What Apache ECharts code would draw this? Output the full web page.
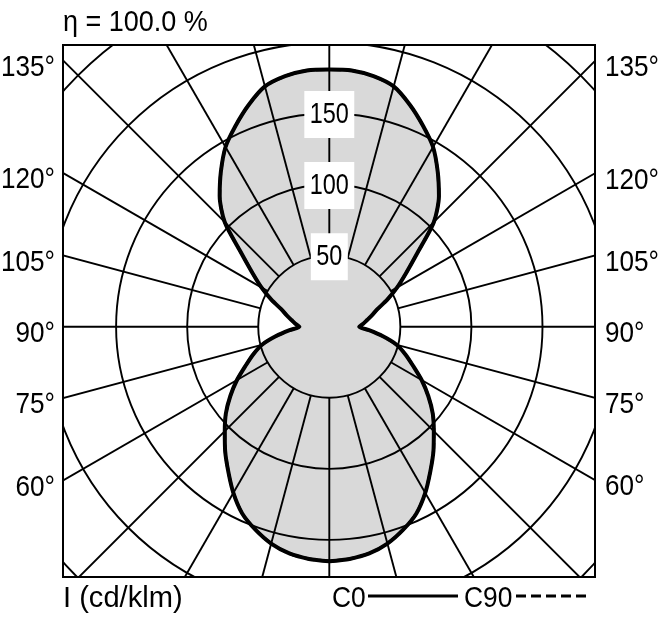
<!DOCTYPE html>
<html><head><meta charset="utf-8">
<script src="https://cdn.jsdelivr.net/npm/echarts@6/dist/echarts.min.js"></script>
<style>html,body{margin:0;padding:0;background:#fff}#c{width:660px;height:617px}</style>
</head><body><div id="c"></div>
<script>
// ---- data ----
const gamma = [0,5,10,15,20,25,30,35,40,45,50,55,60,65,70,75,80,85,90,95,100,105,110,115,120,125,130,135,140,145,150,155,160,165,170,175,180];
const c0  = [165,164,162,158,152,145,135,124,114,104,95,85,75,65,57,49,38,28,21,24,27,31,36,45,55,66,81,104,120,133,146,156,166,175,179,181,181];
const c90 = [165,164,162,158,152,145,135,124,114,104,95,85,75,65,57,49,38,28,21,24,27,31,36,45,55,66,81,104,120,133,146,156,166,175,179,181,181];
const radialAngles = [-165,-150,-135,-120,-105,-90,-75,-60,-45,-30,-15,0,15,30,45,60,75,90,105,120,135,150,165,180];
const sideTicks = [135,120,105,90,75,60];
const ringLabels = [50,100,150];
const titleText = 'η = 100.0 %';
const unitText = 'I (cd/klm)';
const seriesNames = ['C0','C90'];

// ---- layout / style ----
const FONT = '"Liberation Sans",Arial,sans-serif';
const FS = 30;
const BOX = {l:63, t:45, r:595, b:577};
const CENTER = [329.3, 326.7];
const RMAX = 300, RPIX = 426.4;
const GRIDW = 1.9, CURVEW = 4;

function loop(vals){
  const pts = [];
  for (let i = 0; i < gamma.length; i++) pts.push([vals[i], gamma[i]]);
  for (let i = gamma.length - 1; i >= 0; i--) pts.push([vals[i], -gamma[i]]);
  return pts;
}

const chart = echarts.init(document.getElementById('c'), null, {renderer:'canvas'});
const option = {
  animation:false,
  backgroundColor:'#fff',
  polar:{center:CENTER, radius:RPIX},
  angleAxis:{type:'value', min:-180, max:180, startAngle:90, clockwise:true,
    axisLine:{show:false}, axisTick:{show:false}, axisLabel:{show:false}, splitLine:{show:false}},
  radiusAxis:{type:'value', min:0, max:RMAX, interval:50, z:3,
    axisLine:{show:false}, axisTick:{show:false}, axisLabel:{show:false},
    splitLine:{show:true, lineStyle:{color:'#000', width:GRIDW}}},
  series:[
    {type:'line', name:'fill', coordinateSystem:'polar', data:loop(c0), smooth:0.25, symbol:'none', z:1,
      lineStyle:{width:0, color:'#d9d9d9'}, areaStyle:{color:'#d9d9d9', opacity:1}},
    {type:'custom', name:'radials', coordinateSystem:'polar', z:2,
      data:radialAngles.map(a => [50, a]),
      renderItem:(params, api) => {
        const a = api.value(1);
        const p1 = api.coord([50, a]);
        const p2 = api.coord([RMAX, a]);
        return {type:'line', shape:{x1:p1[0], y1:p1[1], x2:p2[0], y2:p2[1]}, style:{stroke:'#000', lineWidth:GRIDW}};
      }},
    {type:'line', name:'C90', coordinateSystem:'polar', data:loop(c90), smooth:0.25, symbol:'none', z:4,
      lineStyle:{color:'#000', width:3, type:[10,5]}},
    {type:'line', name:'C0', coordinateSystem:'polar', data:loop(c0), smooth:0.25, symbol:'none', z:5,
      lineStyle:{color:'#000', width:CURVEW}}
  ]
};
chart.setOption(option);

// decorations: mask outside frame, frame, texts
const g = [];
const W = 660, H = 617;
const white = {fill:'#fff'};
g.push({type:'rect', z:100, silent:true, shape:{x:0, y:0, width:W, height:BOX.t}, style:white});
g.push({type:'rect', z:100, silent:true, shape:{x:0, y:BOX.b, width:W, height:H-BOX.b}, style:white});
g.push({type:'rect', z:100, silent:true, shape:{x:0, y:0, width:BOX.l, height:H}, style:white});
g.push({type:'rect', z:100, silent:true, shape:{x:BOX.r, y:0, width:W-BOX.r, height:H}, style:white});
g.push({type:'rect', z:101, silent:true, shape:{x:BOX.l, y:BOX.t, width:BOX.r-BOX.l, height:BOX.b-BOX.t},
  style:{fill:null, stroke:'#000', lineWidth:2}});

const txt = (s, x, y, align, sx, extra) => ({type:'text', z:102, silent:true, x:x, y:y, scaleX:sx, scaleY:1,
  style:Object.assign({text:s, fill:'#000', fontSize:FS, fontFamily:FONT, align:align, verticalAlign:'middle'}, extra||{})});

const toPx = v => chart.convertToPixel({polarIndex:0}, v);
const c = toPx([0, 0]);
sideTicks.forEach(t => {
  const pl = toPx([100, t]);
  const yl = c[1] + (BOX.l - c[0]) / (pl[0] - c[0]) * (pl[1] - c[1]);
  g.push(txt(t + '°', BOX.l - 8, yl + 7, 'right', 0.87));
  const pr = toPx([100, -t]);
  const yr = c[1] + (BOX.r - c[0]) / (pr[0] - c[0]) * (pr[1] - c[1]);
  g.push(txt(t + '°', BOX.r + 10, yr + 7, 'left', 0.87));
});
ringLabels.forEach(v => {
  const p = toPx([v, 180]);
  g.push(txt(String(v), p[0], p[1] + 1, 'center', 0.78,
    {backgroundColor:'#fff', padding:[9,7,8,7]}));
});
g.push(txt(titleText, 63, 23, 'left', 0.9));
g.push(txt(unitText, 63, 599, 'left', 0.97));

// legend (series names with their line styles)
let lx = 332;
const ly = 599;
const legendStyles = [{lineDash:null, w:90}, {lineDash:[10,5], w:72}];
seriesNames.forEach((nm, i) => {
  g.push(txt(nm, lx, ly, 'left', 0.88));
  const wTxt = (nm.length === 2 ? 31 : 47);
  lx += wTxt + 5;
  g.push({type:'line', z:102, silent:true, shape:{x1:lx, y1:ly - 3, x2:lx + legendStyles[i].w, y2:ly - 3},
    style:{stroke:'#000', lineWidth:3, lineDash:legendStyles[i].lineDash}});
  lx += legendStyles[i].w + 6;
});
chart.setOption({graphic:g});
</script>
</body></html>
